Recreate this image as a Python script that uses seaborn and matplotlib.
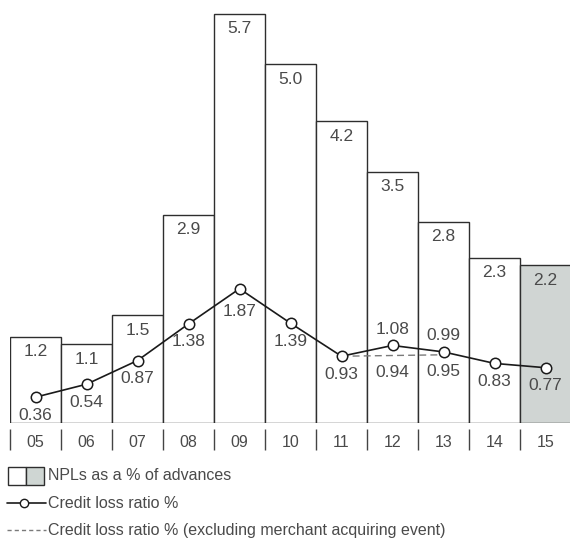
import numpy as np
import pandas as pd
import matplotlib
matplotlib.use("Agg")
import matplotlib.pyplot as plt
from matplotlib.lines import Line2D
from matplotlib.patches import Rectangle
import seaborn as sns

years = ["05", "06", "07", "08", "09", "10", "11", "12", "13", "14", "15"]
npl = [1.2, 1.1, 1.5, 2.9, 5.7, 5.0, 4.2, 3.5, 2.8, 2.3, 2.2]
clr = [0.36, 0.54, 0.87, 1.38, 1.87, 1.39, 0.93, 1.08, 0.99, 0.83, 0.77]
clr_pos = ["below", "below", "below", "below", "below", "below", "below", "above", "above", "below", "below"]
excl_years = ["11", "12", "13"]
excl_vals = [0.93, 0.94, 0.95]
excl_labels = ["", "0.94", "0.95"]

legend_texts = ["NPLs as a % of advances", "Credit loss ratio %",
                "Credit loss ratio % (excluding merchant acquiring event)"]

sns.set_theme(style="white")
plt.rcParams['font.family'] = ['Liberation Sans', 'DejaVu Sans']

TXT = "#4a4a4a"
EDGE = "#2e2e2e"
GREY_FILL = "#cfd6d3"

W, H = 570, 538
fig = plt.figure(figsize=(W / 100, H / 100), dpi=100)
scale = 71.8
bottom_px = 423
ax = fig.add_axes([10 / W, (H - bottom_px) / H, 561 / W, 422 / H])

df = pd.DataFrame({"year": years, "npl": npl})
colors = ["white"] * (len(years) - 1) + [GREY_FILL]
sns.barplot(data=df, x="year", y="npl", hue="year", palette=colors, legend=False,
            width=1.0, edgecolor=EDGE, linewidth=1.0, ax=ax, zorder=1)

pos = np.arange(len(years))
excl_pos = [years.index(y) for y in excl_years]

sns.lineplot(x=excl_pos, y=excl_vals, color="#7a7a7a", linestyle=(0, (5, 3)),
             linewidth=1.0, ax=ax, zorder=2)
sns.lineplot(x=pos, y=clr, color="#1a1a1a", linewidth=1.2, marker="o",
             markersize=7.5, markerfacecolor="white", markeredgecolor="#1a1a1a",
             markeredgewidth=1.1, ax=ax, zorder=3)

ax.set_xlim(-0.5, len(years) - 0.5)
ax.set_ylim(0, 422 / scale)

VFS = 12.5
for i, v in enumerate(npl):
    ax.annotate(f"{v:.1f}", (i, v), xytext=(0, -15), textcoords="offset pixels",
                ha="center", va="center", fontsize=VFS, color=TXT)
peak = int(np.argmax(clr))
for i, (v, p) in enumerate(zip(clr, clr_pos)):
    if p == "below":
        off = -23 if i == peak else -18
    else:
        off = 16
    ax.annotate(f"{v:.2f}", (i, v), xytext=(0, off), textcoords="offset pixels",
                ha="center", va="center", fontsize=VFS, color=TXT)
for i, v, t in zip(excl_pos, excl_vals, excl_labels):
    if t:
        ax.annotate(t, (i, v), xytext=(0, -17), textcoords="offset pixels",
                    ha="center", va="center", fontsize=VFS, color=TXT)

# axes styling
for s in ["top", "right", "left"]:
    ax.spines[s].set_visible(False)
ax.spines["bottom"].set_position(("outward", 6 * 0.72))
ax.spines["bottom"].set_visible(False)
ax.set_yticks([])
ax.set_xlabel("")
ax.set_ylabel("")
ax.set_xticks(pos)
ax.set_xticklabels(years)
ax.set_xticks(np.arange(len(years) + 1) - 0.5, minor=True)
ax.tick_params(axis="x", which="major", length=0, pad=4, labelsize=11.5, labelcolor=TXT)
ax.tick_params(axis="x", which="minor", length=21 * 0.72, width=1.0, color="#444444",
               direction="out", bottom=True)

# legend (figure pixel coordinates)
def fx(x):
    return x / W

def fy(y):
    return 1 - y / H

LFS = 11.5
tr = fig.transFigure
fig.add_artist(Rectangle((fx(7.5), fy(484.5)), (26 - 7.5) / W, 17.5 / H, transform=tr,
                         facecolor="white", edgecolor=EDGE, linewidth=1.0))
fig.add_artist(Rectangle((fx(26), fy(484.5)), (43.5 - 26) / W, 17.5 / H, transform=tr,
                         facecolor=GREY_FILL, edgecolor=EDGE, linewidth=1.0))
fig.text(fx(48), fy(476), legend_texts[0], ha="left", va="center", fontsize=LFS, color=TXT)

fig.add_artist(Line2D([fx(7), fx(46)], [fy(503), fy(503)], transform=tr, color="#1a1a1a",
                      linewidth=1.2))
fig.add_artist(Line2D([fx(23.5)], [fy(503)], transform=tr, marker="o", markersize=6,
                      markerfacecolor="white", markeredgecolor="#1a1a1a", markeredgewidth=1.0))
fig.text(fx(48), fy(503), legend_texts[1], ha="left", va="center", fontsize=LFS, color=TXT)

fig.add_artist(Line2D([fx(7), fx(46)], [fy(530), fy(530)], transform=tr, color="#7a7a7a",
                      linewidth=1.0, linestyle=(0, (3, 2.2))))
fig.text(fx(48), fy(530), legend_texts[2], ha="left", va="center", fontsize=LFS, color=TXT)

fig.savefig("out.png", dpi=100)
